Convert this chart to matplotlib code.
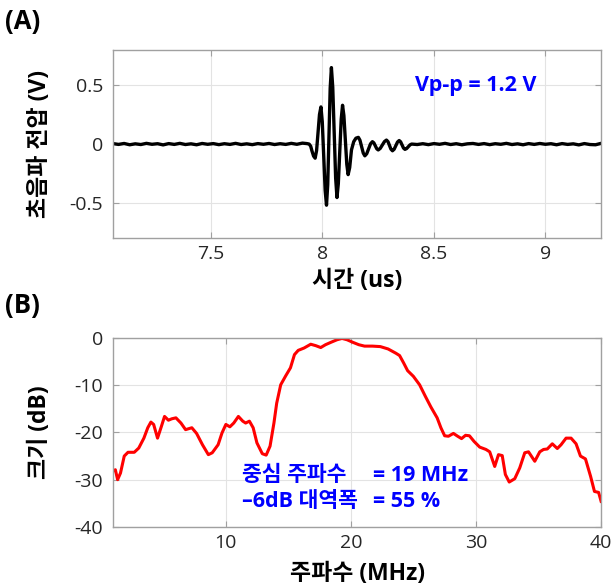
import matplotlib
matplotlib.use("Agg")
import matplotlib.pyplot as plt
import numpy as np

plt.rcParams['font.family'] = ['Open Sans', 'Noto Sans CJK KR', 'DejaVu Sans']
plt.rcParams['axes.unicode_minus'] = False

# (A) pulse-echo waveform, time in us, voltage in V
base_pre_t = [7.06, 7.085, 7.11, 7.135, 7.16, 7.185, 7.21, 7.235, 7.26, 7.285,
              7.31, 7.335, 7.36, 7.385, 7.41, 7.435, 7.46, 7.485, 7.51, 7.535,
              7.56, 7.585, 7.61, 7.635, 7.66, 7.685, 7.71, 7.735, 7.76, 7.785,
              7.81, 7.835, 7.86, 7.885, 7.91, 7.93]
base_pre_v = [0.004, -0.003, 0.005, -0.006, 0.002, -0.004, 0.006, -0.002, 0.003, -0.007,
              0.004, -0.003, 0.006, -0.004, 0.002, -0.006, 0.005, -0.002, 0.004, -0.005,
              0.003, -0.003, 0.006, -0.004, 0.002, -0.005, 0.004, -0.002, 0.005, -0.004,
              0.003, -0.003, 0.006, -0.002, 0.008, 0.004]
burst_t = [7.940, 7.947, 7.953, 7.960, 7.967, 7.9735, 7.980, 7.9865, 7.993,
           7.999, 8.0055, 8.012, 8.018, 8.0235, 8.029, 8.0345, 8.040,
           8.046, 8.0525, 8.059, 8.065, 8.071, 8.0775, 8.084, 8.090,
           8.096, 8.1025, 8.109, 8.115, 8.122, 8.130, 8.140, 8.150, 8.161,
           8.168, 8.1755, 8.183, 8.190, 8.1985, 8.207, 8.2155, 8.224,
           8.2305, 8.237, 8.2435, 8.250, 8.259, 8.2685, 8.278, 8.287,
           8.294, 8.3005, 8.307, 8.314, 8.3215, 8.329, 8.3365, 8.344,
           8.3505, 8.357, 8.3635, 8.370, 8.3775, 8.385, 8.3925, 8.400]
burst_v = [0.000, -0.018, -0.060, -0.102, -0.120, -0.055, 0.098, 0.251, 0.316,
           0.190, -0.102, -0.395, -0.520, -0.345, 0.065, 0.475, 0.650,
           0.484, 0.098, -0.289, -0.455, -0.337, -0.063, 0.212, 0.330,
           0.242, 0.035, -0.172, -0.260, -0.200, -0.050, 0.020, 0.050, 0.057,
           0.033, -0.022, -0.077, -0.100, -0.082, -0.040, 0.002, 0.020,
           0.010, -0.015, -0.040, -0.050, -0.037, -0.008, 0.021, 0.034,
           0.020, -0.012, -0.043, -0.057, -0.044, -0.013, 0.017, 0.030,
           0.019, -0.008, -0.034, -0.045, -0.038, -0.022, -0.007, 0.000]
base_post_t = [8.425, 8.45, 8.475, 8.50, 8.525, 8.55, 8.575, 8.60, 8.625, 8.65,
               8.675, 8.70, 8.725, 8.75, 8.775, 8.80, 8.825, 8.85, 8.875, 8.90,
               8.925, 8.95, 8.975, 9.00, 9.025, 9.05, 9.075, 9.10, 9.125, 9.15,
               9.175, 9.20, 9.225, 9.25]
base_post_v = [-0.004, 0.003, -0.005, 0.004, -0.002, 0.006, -0.004, 0.003, -0.006, 0.002,
               0.005, -0.003, 0.004, -0.005, 0.003, -0.002, 0.006, -0.004, 0.002, -0.006,
               0.004, -0.003, 0.005, -0.002, 0.003, -0.006, 0.004, -0.003, 0.002, -0.007,
               0.004, -0.004, -0.006, 0.006]

# (B) spectrum, frequency in MHz, magnitude in dB
freq = [1.0, 1.19, 1.37, 1.6, 1.9, 2.2, 2.7, 3.06, 3.47, 3.78, 4.03, 4.25, 4.56, 4.87,
        5.12, 5.43, 5.7, 6.03, 6.43, 6.8, 7.3, 7.68, 8.15, 8.62, 8.93, 9.4, 9.71,
        10.02, 10.34, 10.65, 11.02, 11.37, 11.6, 11.9, 12.2, 12.5, 12.93, 13.24,
        13.55, 13.86, 14.08, 14.4, 14.8, 15.18, 15.5, 15.8, 16.27, 16.8, 17.2, 17.6,
        17.98, 18.45, 18.9, 19.3, 19.7, 20.17, 20.64, 21.1, 21.73, 22.36, 22.98,
        23.6, 23.9, 24.23, 24.54, 25.0, 25.5, 25.95, 26.4, 26.9, 27.2, 27.5, 27.8,
        28.2, 28.54, 28.85, 29.17, 29.48, 29.85, 30.3, 30.8, 31.1, 31.5, 31.8, 32.1,
        32.35, 32.66, 33.1, 33.5, 33.9, 34.2, 34.7, 35.1, 35.4, 35.7, 36.1, 36.5,
        36.8, 37.2, 37.6, 38.0, 38.35, 38.75, 39.16, 39.47, 39.8, 40.0]
mag_db = [-28.2, -27.9, -30.0, -28.6, -25.0, -24.2, -24.2, -23.3, -21.2, -19.0, -17.8,
          -18.3, -21.2, -18.7, -16.6, -17.4, -17.1, -16.9, -18.0, -19.4, -19.0, -20.2,
          -22.6, -24.7, -24.3, -22.6, -20.1, -18.3, -18.8, -18.0, -16.6, -17.6, -18.0,
          -17.6, -19.0, -22.2, -24.5, -24.8, -22.9, -18.0, -13.8, -9.9, -8.0, -6.3,
          -3.5, -2.6, -2.1, -1.3, -1.6, -2.0, -1.4, -0.85, -0.35, -0.07, -0.35, -0.9,
          -1.4, -1.7, -1.7, -1.8, -2.3, -3.2, -3.7, -5.3, -6.9, -8.1, -9.9, -12.3,
          -14.6, -16.9, -19.0, -20.7, -20.8, -20.2, -20.8, -21.3, -20.6, -20.7, -21.9,
          -23.1, -23.6, -24.1, -27.2, -24.7, -24.9, -28.9, -30.5, -29.8, -27.5, -24.3,
          -24.1, -26.1, -24.1, -23.6, -23.5, -22.4, -23.4, -22.6, -21.2, -21.2, -22.4,
          -25.0, -25.6, -29.3, -32.5, -32.7, -34.6]

time_us = base_pre_t + burst_t + base_post_t
volt = base_pre_v + burst_v + base_post_v

frame_col = '#a0a0a0'
tick_col = '#262626'
label_size = 16.5
note_size = 15.5


def style_axes(ax):
    ax.grid(True, color='#e3e3e3', linewidth=0.8)
    ax.set_axisbelow(True)
    for s in ax.spines.values():
        s.set_color(frame_col)
        s.set_linewidth(1.0)
    ax.tick_params(direction='in', length=4, width=0.8, color=frame_col,
                   labelcolor=tick_col, labelsize=14, top=True, right=True)
    ax.tick_params(axis='y', pad=7)
    ax.tick_params(axis='x', pad=5)


fig = plt.figure(figsize=(6.14, 5.88), dpi=100)

ax1 = fig.add_axes([0.184, 0.595, 0.795, 0.32])
ax1.plot(time_us, volt, color='black', linewidth=2.4)
ax1.set_xlim(7.06, 9.25)
ax1.set_ylim(-0.8, 0.8)
ax1.set_xticks([7.5, 8, 8.5, 9])
ax1.set_xticklabels(['7.5', '8', '8.5', '9'])
ax1.set_yticks([-0.5, 0, 0.5])
ax1.set_yticklabels(['-0.5', '0', '0.5'])
style_axes(ax1)
ax1.set_xlabel('시간 (us)', fontsize=label_size, fontweight='bold')
ax1.set_ylabel('초음파 전압 (V)', fontsize=label_size, fontweight='bold')
ax1.xaxis.set_label_coords(0.5, -0.165)
ax1.yaxis.set_label_coords(-0.125, 0.5)
ax1.text(8.415, 0.5, 'Vp-p = 1.2 V', color='#0000ff', fontsize=note_size,
         fontweight='bold', ha='left', va='center')

ax2 = fig.add_axes([0.184, 0.104, 0.795, 0.321])
ax2.plot(freq, mag_db, color='#ff0000', linewidth=2.2)
ax2.set_xlim(1, 40)
ax2.set_ylim(-40, 0)
ax2.set_xticks([10, 20, 30, 40])
ax2.set_yticks([-40, -30, -20, -10, 0])
style_axes(ax2)
ax2.set_xlabel('주파수 (MHz)', fontsize=label_size, fontweight='bold')
ax2.set_ylabel('크기 (dB)', fontsize=label_size, fontweight='bold')
ax2.xaxis.set_label_coords(0.5, -0.185)
ax2.yaxis.set_label_coords(-0.125, 0.5)
ax2.text(11.3, -29.1, '중심 주파수', color='#0000ff', fontsize=note_size,
         fontweight='bold', ha='left', va='center')
ax2.text(21.8, -29.1, '= 19 MHz', color='#0000ff', fontsize=note_size,
         fontweight='bold', ha='left', va='center')
ax2.text(11.3, -34.6, '–6dB 대역폭', color='#0000ff', fontsize=note_size,
         fontweight='bold', ha='left', va='center')
ax2.text(21.8, -34.6, '= 55 %', color='#0000ff', fontsize=note_size,
         fontweight='bold', ha='left', va='center')

fig.text(0.008, 0.963, '(A)', fontsize=18.5, fontweight='bold', ha='left', va='center')
fig.text(0.008, 0.481, '(B)', fontsize=18.5, fontweight='bold', ha='left', va='center')

fig.savefig('out.png', dpi=100)
